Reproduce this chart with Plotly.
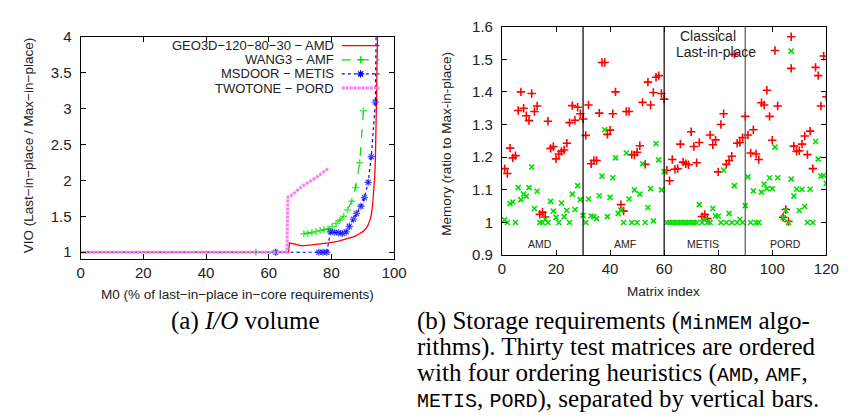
import plotly.graph_objects as go

W, H = 848, 418

# ---------------- Left chart data: I/O volume ----------------
amd_x = [0, 66.3, 66.6, 68.0, 70.5, 73, 76, 79, 82, 85, 87.5, 89, 90.1, 91.0, 91.7, 92.3, 92.7, 93.1, 93.5, 93.8, 94.0, 94.2, 94.4, 94.6, 94.8]
amd_y = [1.0, 1.0, 1.13, 1.115, 1.089, 1.10, 1.112, 1.13, 1.15, 1.185, 1.222, 1.26, 1.29, 1.33, 1.38, 1.45, 1.52, 1.65, 1.83, 2.05, 2.28, 2.6, 3.2, 3.8, 4.3]

amf_x = [0, 55.9, 62.2, 70, None, 71.2, 72.4, 73.75, 75.1, 76.4, 77.6, 78.9, 80.2, 81.5, 82.7, 83.9, 85.1, 86.5, 87.7, 89.0, 90.2]
amf_y = [1, 1, 1, 1, None, 1.258, 1.262, 1.276, 1.289, 1.302, 1.316, 1.324, 1.356, 1.40, 1.449, 1.502, 1.587, 1.711, 1.902, 2.244, 2.97]

metis_x = [0, 62.2, 76.0, 77.3, 78.5, 79.7, 81.0, 82.3, 83.5, 84.7, 85.7, 87.0, 88.0, 89.4, 90.5, 91.7, 92.7, 94.0, 94.3]
metis_y = [1, 1, 1, 1, 1, 1.284, 1.278, 1.27, 1.262, 1.284, 1.36, 1.46, 1.54, 1.64, 1.76, 1.973, 2.33, 3.09, 4.3]

pord_x = [0, 65.8, 66.1, 67.2, 70.8, 75, 79]
pord_y = [1, 1, 1.77, 1.79, 1.924, 2.036, 2.165]

left_names = ["GEO3D−120−80−30 − AMD", "WANG3 − AMF", "MSDOOR − METIS", "TWOTONE − PORD"]

# ---------------- Right chart data: storage requirements ----------------
matrix_index = list(range(1, 121))
classical = [
    # AMD 1-30
    1.165, 1.15, 1.228, 1.198, 1.205, 1.343, 1.40, 1.35, 1.327, 1.312,
    1.395, 1.34, 1.357, 1.025, 1.032, 1.017, 1.31, 1.227, 1.233, 1.195,
    1.21, 1.218, 1.222, 1.243, 1.306, 1.358, 1.313, 1.353, 1.333, 1.317,
    # AMF 31-60
    1.267, 1.36, 1.18, 1.19, 1.19, 1.335, 1.49, 1.49, 1.27, 1.283,
    1.333, 1.40, None, 1.055, 1.035, 1.34, 1.34, 1.208, 1.207, 1.215,
    1.235, 1.368, 1.178, 1.43, 1.36, 1.398, 1.445, 1.45, 1.395, 1.378,
    # METIS 61-90
    1.16, 1.128, 1.193, 1.163, 1.165, 1.24, 1.185, 1.18, 1.177, 1.278,
    1.233, 1.183, 1.245, 1.018, 1.025, 1.012, 1.268, 1.238, 1.253, 1.155,
    1.30, 1.333, 1.178, 1.19, 1.203, 1.515, 1.243, 1.245, 1.26, 1.325,
    # PORD 91-120
    1.268, 1.213, 1.284, 1.21, 1.193, 1.367, 1.36, 1.405, 1.325, 1.252,
    1.527, 1.357, None, 1.016, 1.04, 1.003, 1.472, 1.234, 1.218, 1.22,
    1.24, 1.265, 1.208, 1.28, 1.165, 1.475, 1.45, 1.357, 1.51, 1.385,
]
last_in_place = [
    # AMD 1-30
    1.008, 1.0, 1.058, 1.063, 1.0, 1.107, 1.07, 1.087, 1.08, 1.107,
    1.17, 1.043, 1.096, 1.0, 1.0, 1.01, 1.0, 1.065, 1.035, 1.016,
    1.0, 1.06, 1.018, 1.037, 1.0, 1.087, 1.04, 1.113, 1.07, 1.022,
    # AMF 31-60
    1.0, 1.072, 1.02, 1.018, 1.012, 1.082, 1.142, 1.284, 1.018, 1.077,
    1.137, 1.198, 1.028, 1.038, 1.0, 1.213, 1.072, 1.0, 1.1, 1.0,
    1.087, 1.18, 1.0, 1.046, 1.104, 1.005, 1.242, 1.192, 1.1, 1.156,
    # METIS 61-90
    1.0, 1.0, 1.0, 1.0, 1.0, 1.0, 1.0, 1.0, 1.0, 1.0,
    1.0, 1.0, 1.055, 1.0, 1.008, 1.0, 1.0, 1.043, 1.02, 1.02,
    1.0, 1.16, 1.0, 1.028, 1.0, 1.113, 1.0, 1.01, 1.0, 1.052,
    # PORD 91-120
    1.14, 1.0, 1.097, 1.0, 1.0, 1.093, 1.118, 1.104, 1.137, 1.104,
    1.231, 1.137, None, 1.015, 1.037, 1.0, 1.133, 1.081, 1.102, 1.037,
    1.102, 1.049, 1.0, 1.102, 1.0, 1.248, 1.194, 1.142, 1.144, 1.12,
]
orderings = ["AMD", "AMF", "METIS", "PORD"]
ordering_bounds = [30, 60, 90]
ordering_label_x = [14, 45.5, 74.5, 105]

RED = "#ff0000"
GREEN = "#00e000"
BLUE = "#0000ff"
PINK = "#f77ff7"
FONT = "Liberation Sans"
TXT = "#222222"
PINK_DASH = "3px,1px"

fig = go.Figure()

# left chart traces
fig.add_trace(go.Scatter(x=amd_x, y=amd_y, mode="lines", xaxis="x", yaxis="y",
                         line=dict(color=RED, width=1.3), showlegend=False))
fig.add_trace(go.Scatter(x=amf_x, y=amf_y, mode="lines+markers", xaxis="x", yaxis="y",
                         line=dict(color=GREEN, width=1.2, dash="dash"),
                         marker=dict(symbol="cross-thin-open", color=GREEN,
                                     size=[0, 5, 5, 0, 0] + [5] * 16,
                                     line=dict(color=GREEN, width=1.5)),
                         showlegend=False))
fig.add_trace(go.Scatter(x=metis_x, y=metis_y, mode="lines+markers", xaxis="x", yaxis="y",
                         line=dict(color=BLUE, width=1.2, dash="dot"),
                         marker=dict(symbol="asterisk-open", color=BLUE, size=[0] + [6] * 17 + [0],
                                     line=dict(color=BLUE, width=1.3)),
                         showlegend=False))
fig.add_trace(go.Scatter(x=pord_x, y=pord_y, mode="lines", xaxis="x", yaxis="y",
                         line=dict(color=PINK, width=3, dash=PINK_DASH), showlegend=False))

# left legend (key inside top-right, gnuplot style: text then sample)
key_y = [3.875, 3.678, 3.481, 3.284]
key_x0, key_x1, key_mark = 83.3, 95.3, 89.3
key_styles = [dict(color=RED, width=1.3), dict(color=GREEN, width=1.2, dash="dash"),
              dict(color=BLUE, width=1.2, dash="dot"), dict(color=PINK, width=3, dash=PINK_DASH)]
for i, (nm, ky) in enumerate(zip(left_names, key_y)):
    fig.add_trace(go.Scatter(x=[key_x0, key_x1], y=[ky, ky], mode="lines", xaxis="x", yaxis="y",
                             line=key_styles[i], showlegend=False, hoverinfo="skip"))
    fig.add_annotation(x=81.0, y=ky, xref="x", yref="y", text=nm, showarrow=False,
                       xanchor="right", yanchor="middle", borderpad=0,
                       font=dict(family=FONT, size=13, color=TXT))
fig.add_trace(go.Scatter(x=[key_mark], y=[key_y[1]], mode="markers", xaxis="x", yaxis="y",
                         marker=dict(symbol="cross-thin-open", color=GREEN, size=5,
                                     line=dict(color=GREEN, width=1.5)),
                         showlegend=False, hoverinfo="skip"))
fig.add_trace(go.Scatter(x=[key_mark], y=[key_y[2]], mode="markers", xaxis="x", yaxis="y",
                         marker=dict(symbol="asterisk-open", color=BLUE, size=6,
                                     line=dict(color=BLUE, width=1.3)),
                         showlegend=False, hoverinfo="skip"))

# right chart traces
red_marker = dict(symbol="cross-thin-open", color=RED, size=6, line=dict(color=RED, width=1.6))
green_marker = dict(symbol="x-thin-open", color=GREEN, size=5, line=dict(color=GREEN, width=1.6))
fig.add_trace(go.Scatter(x=matrix_index, y=classical, mode="markers", xaxis="x2", yaxis="y2",
                         marker=red_marker, showlegend=False))
fig.add_trace(go.Scatter(x=matrix_index, y=last_in_place, mode="markers", xaxis="x2", yaxis="y2",
                         marker=green_marker, showlegend=False))
# right key samples
fig.add_trace(go.Scatter(x=[107], y=[1.569], mode="markers", xaxis="x2", yaxis="y2",
                         marker=red_marker, showlegend=False, hoverinfo="skip"))
fig.add_trace(go.Scatter(x=[107], y=[1.525], mode="markers", xaxis="x2", yaxis="y2",
                         marker=green_marker, showlegend=False, hoverinfo="skip"))
fig.add_annotation(x=710 / W, y=1 - 20 / H, xref="paper", yref="paper", text="Classical",
                   showarrow=False, xanchor="center", yanchor="middle", borderpad=0,
                   font=dict(family=FONT, size=14, color=TXT))
fig.add_annotation(x=718 / W, y=1 - 36 / H, xref="paper", yref="paper", text="Last-in-place",
                   showarrow=False, xanchor="center", yanchor="middle", borderpad=0,
                   font=dict(family=FONT, size=14, color=TXT))

# separators
for i, b in enumerate(ordering_bounds):
    fig.add_shape(type="line", xref="x2", yref="y2 domain", x0=b, x1=b, y0=0, y1=1,
                  line=dict(color="#555555" if i == 2 else "black", width=1.2))
for lab, lx in zip(orderings, ordering_label_x):
    fig.add_annotation(x=lx, y=0.935, xref="x2", yref="y2", text=lab, showarrow=False,
                       xanchor="center", yanchor="middle",
                       font=dict(family=FONT, size=10.5, color=TXT))

axis_common = dict(showline=True, linecolor="black", linewidth=1, mirror="ticks",
                   ticks="inside", ticklen=5, tickcolor="black", tickwidth=1,
                   showgrid=False, zeroline=False,
                   tickfont=dict(family=FONT, size=15, color=TXT))

fig.update_layout(
    width=W, height=H,
    margin=dict(l=0, r=0, t=0, b=0),
    paper_bgcolor="white", plot_bgcolor="white",
    showlegend=False,
    xaxis=dict(axis_common, domain=[70 / W, 390 / W], range=[0, 100], dtick=20, tick0=0, anchor="y"),
    yaxis=dict(axis_common, domain=[(H - 252.7) / H, (H - 20.5) / H], range=[0.9, 4], dtick=0.5, tick0=1,
               anchor="x", ticklabelstandoff=5),
    xaxis2=dict(axis_common, domain=[500 / W, 831 / W], range=[0, 120], dtick=20, tick0=0, anchor="y2"),
    yaxis2=dict(axis_common, domain=[(H - 248.3) / H, (H - 10) / H], range=[0.9, 1.6], dtick=0.1, tick0=0.9,
                anchor="x2", ticklabelstandoff=5),
)

# axis titles
title_font = dict(family=FONT, size=13.5, color=TXT)
fig.add_annotation(x=230 / W, y=1 - 289 / H, xref="paper", yref="paper", xanchor="center", yanchor="middle",
                   text="M0 (% of last−in−place in−core requirements)", showarrow=False, font=title_font)
fig.add_annotation(x=17 / W, y=1 - 134 / H, xref="paper", yref="paper", xanchor="center", yanchor="middle",
                   text="VIO (Last−in−place / Max−in−place)", showarrow=False, textangle=-90, font=title_font)
fig.add_annotation(x=665 / W, y=1 - 286 / H, xref="paper", yref="paper", xanchor="center", yanchor="middle",
                   text="Matrix index", showarrow=False, font=title_font)
fig.add_annotation(x=444 / W, y=1 - 132 / H, xref="paper", yref="paper", xanchor="center", yanchor="middle",
                   text="Memory (ratio to Max-in-place)", showarrow=False, textangle=-90, font=title_font)

# captions
SERIF = "Liberation Serif"
MONO = "Liberation Mono"
cap_font = dict(family=SERIF, size=25, color="black")


def tt(s):
    return f'<span style="font-family:{MONO};font-size:20px">{s}</span>'


fig.add_annotation(x=238 / W, y=1 - 317 / H, xref="paper", yref="paper", xanchor="center", yanchor="middle",
                   text="(a) <i>I/O</i> volume", showarrow=False, font=cap_font, borderpad=0)
cap_lines = [
    f"(b) Storage requirements ({tt('MinMEM')} algo-",
    "rithms). Thirty test matrices are ordered",
    f"with four ordering heuristics ({tt('AMD')}, {tt('AMF')},",
    f"{tt('METIS')}, {tt('PORD')}), separated by vertical bars.",
]
for k, line in enumerate(cap_lines):
    fig.add_annotation(x=412 / W, y=1 - (317 + 27.2 * k) / H, xref="paper", yref="paper",
                       xanchor="left", yanchor="middle", text=line, showarrow=False,
                       font=cap_font, borderpad=0)

fig.write_html("out.html")
